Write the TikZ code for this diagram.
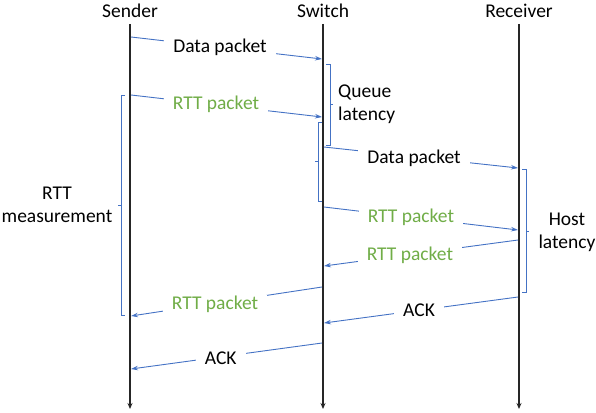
\documentclass[tikz,border=0pt]{standalone}
\usepackage{fontspec}
\setmainfont{Carlito}
\usetikzlibrary{arrows.meta}
\definecolor{lineblue}{RGB}{68,114,196}
\definecolor{pktgreen}{RGB}{112,173,71}
\begin{document}
\begin{tikzpicture}[x=1pt,y=-1pt,
  font=\fontsize{19.5}{23}\selectfont,
  life/.style={line width=1.3pt,black!85,-{Stealth[length=6pt,width=5pt]}},
  msg/.style={lineblue,line width=0.9pt,-{Stealth[length=7pt,width=4.5pt]}},
  lbl/.style={fill=white,inner xsep=9pt,inner ysep=1pt,text=black},
  glbl/.style={lbl,text=pktgreen},
  brk/.style={lineblue,line width=0.9pt},
  head/.style={inner sep=0pt}]
\useasboundingbox (0,0) rectangle (596,412);
% headers
\node[head] (hs) at (130,11) {Sender};
\node[head] (hw) at (323,11) {Switch};
\node[head] (hr) at (519,11) {Receiver};
% lifelines
\coordinate (s0) at (130,24); \coordinate (s1) at (130,409);
\coordinate (w0) at (323,24); \coordinate (w1) at (323,409);
\coordinate (r0) at (519,24); \coordinate (r1) at (519,409);
\draw[life] (s0) -- (s1);
\draw[life] (w0) -- (w1);
\draw[life] (r0) -- (r1);
% message endpoints
\coordinate (a1) at (131,37);  \coordinate (b1) at (322,59);
\coordinate (a2) at (131,95);  \coordinate (b2) at (322,117);
\coordinate (a3) at (324,147); \coordinate (b3) at (518,168);
\coordinate (a4) at (324,207); \coordinate (b4) at (518,230);
\coordinate (a5) at (518,240); \coordinate (b5) at (324,266);
\coordinate (a6) at (322,287); \coordinate (b6) at (131,316);
\coordinate (a7) at (518,297); \coordinate (b7) at (324,323);
\coordinate (a8) at (322,343); \coordinate (b8) at (131,369);
\draw[msg] (a1) -- node[lbl,pos=0.466] (m1) {Data packet} (b1);
\draw[msg] (a2) -- node[glbl,pos=0.445] (m2) {RTT packet} (b2);
\draw[msg] (a3) -- node[lbl,pos=0.464,yshift=-2pt] (m3) {Data packet} (b3);
\draw[msg] (a4) -- node[glbl,pos=0.448] (m4) {RTT packet} (b4);
\draw[msg] (a5) -- node[glbl,pos=0.557,yshift=-1pt] (m5) {RTT packet} (b5);
\draw[msg] (a6) -- node[glbl,pos=0.56,yshift=-1pt] (m6) {RTT packet} (b6);
\draw[msg] (a7) -- node[lbl,pos=0.51] (m7) {ACK} (b7);
\draw[msg] (a8) -- node[lbl,pos=0.53,yshift=-1pt] (m8) {ACK} (b8);
% brackets
\draw[brk] (326,64) -- (330,64) -- (330,145) -- (326,145) (330,104) -- (333,104);
\draw[brk] (322,122) -- (318,122) -- (318,201) -- (322,201) (318,161) -- (315,161);
\draw[brk] (125,95) -- (121,95) -- (121,315) -- (125,315) (121,205) -- (118,205);
\draw[brk] (522,169) -- (526,169) -- (526,292) -- (522,292) (526,231) -- (529,231);
% bracket labels
\node[align=left,anchor=west,inner sep=0pt] (ql) at (338,104) {Queue\\latency};
\node[align=center,inner sep=0pt] (hl) at (567,232) {Host\\latency};
\node[align=center,inner sep=0pt] (rl) at (57,205) {RTT\\measurement};
\end{tikzpicture}
\end{document}
